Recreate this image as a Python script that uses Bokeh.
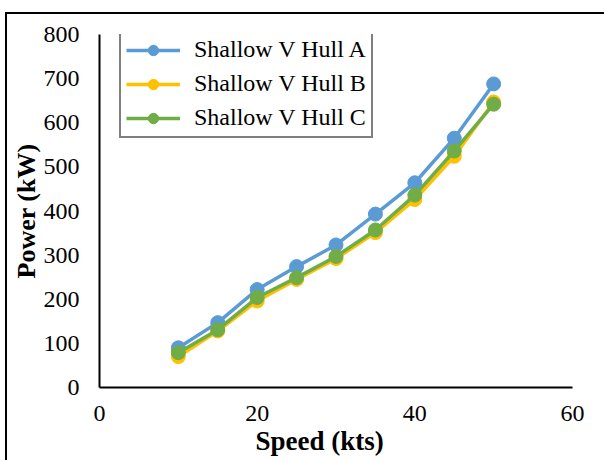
from bokeh.plotting import figure
from bokeh.models import Range1d, FixedTicker, Legend, LegendItem, Title
from bokeh.embed import file_html
from bokeh.resources import INLINE

speed = [10, 15, 20, 25, 30, 35, 40, 45, 50]
hull_a = [90, 147, 222, 274, 323, 393, 464, 565, 688]
hull_b = [70, 128, 196, 245, 292, 351, 426, 524, 647]
hull_c = [79, 131, 204, 249, 297, 357, 436, 536, 642]
names = ["Shallow V Hull A", "Shallow V Hull B", "Shallow V Hull C"]
colors = ["#5B9BD5", "#FFC000", "#70AD47"]
x_ticks = [0, 20, 40, 60]
y_ticks = [0, 100, 200, 300, 400, 500, 600, 700, 800]

FONT = "Liberation Serif"

p = figure(width=599, height=448, output_backend="svg", toolbar_location=None,
           x_range=Range1d(0, 60), y_range=Range1d(0, 800),
           min_border_left=92, min_border_right=34, min_border_top=20, min_border_bottom=75)
p.margin = (12, 0, 0, 5)
p.styles = {"border-left": "2px solid black", "border-top": "2px solid black"}
p.outline_line_color = None
p.xgrid.grid_line_color = None
p.ygrid.grid_line_color = None

items = []
for ys, name, col in zip([hull_a, hull_b, hull_c], names, colors):
    l = p.line(speed, ys, line_color=col, line_width=3.5)
    s = p.scatter(speed, ys, size=14, fill_color=col, line_color=col)
    items.append(LegendItem(label=name, renderers=[l, s]))

for ax in (p.xaxis[0], p.yaxis[0]):
    ax.axis_line_color = "black"
    ax.axis_line_width = 2
    ax.major_tick_line_color = None
    ax.minor_tick_line_color = None
    ax.major_tick_out = 0
    ax.major_tick_in = 0
    ax.minor_tick_out = 0
    ax.minor_tick_in = 0
    ax.major_label_text_font = FONT
    ax.major_label_text_font_size = "24px"
    ax.major_label_text_color = "black"
    ax.axis_label_text_font = FONT
    ax.axis_label_text_font_size = "26px"
    ax.axis_label_text_font_style = "bold"
    ax.axis_label_text_color = "black"

p.xaxis.ticker = FixedTicker(ticks=x_ticks)
p.yaxis.ticker = FixedTicker(ticks=y_ticks)
p.yaxis.axis_label = "Power (kW)"
p.xaxis.major_label_standoff = 18
p.yaxis.major_label_standoff = 20
p.yaxis.axis_label_standoff = 0

xt = Title(text="Speed (kts)", align="left", offset=156, text_font=FONT,
           text_font_size="27px", text_font_style="bold", text_color="black",
           standoff=0)
p.add_layout(xt, "below")

legend = Legend(items=items, location=(20, 249))
legend.border_line_color = "black"
legend.border_line_width = 2
legend.label_text_font = FONT
legend.label_text_font_size = "24px"
legend.label_text_color = "black"
legend.glyph_width = 54
legend.glyph_height = 26
legend.label_height = 26
legend.spacing = 7
legend.padding = 5
legend.margin = 0
legend.label_standoff = 14
legend.background_fill_alpha = 1
p.add_layout(legend)

open("out.html", "w").write(file_html(p, INLINE))
